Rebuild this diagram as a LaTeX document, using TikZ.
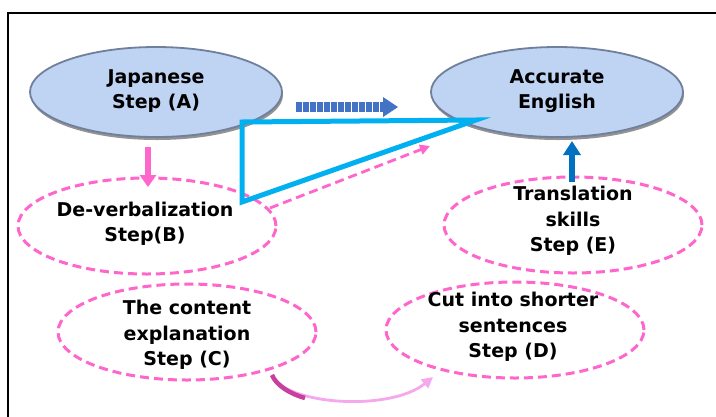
\documentclass[tikz,border=0pt]{standalone}
\usepackage{fontspec}
\setmainfont{DejaVu Sans}
\usetikzlibrary{shapes.geometric,arrows.meta}
\definecolor{solidfill}{HTML}{BFD3F2}
\definecolor{solidedge}{HTML}{6F7F9C}
\definecolor{pinkline}{HTML}{FF66CC}
\definecolor{bluearrow}{HTML}{4472C4}
\definecolor{cyanline}{HTML}{00B0F0}
\definecolor{upblue}{HTML}{0070C0}
\definecolor{curvedark}{HTML}{C8409E}
\definecolor{curvelight}{HTML}{F5A8EE}
\tikzset{
  solidell/.style={ellipse, draw=solidedge, line width=1.8pt, fill=solidfill, minimum width=252pt, minimum height=90pt, inner sep=0pt},
  dashell/.style={ellipse, draw=pinkline, line width=3pt, dash pattern=on 9pt off 5pt, minimum width=258pt, minimum height=96pt, inner sep=0pt},
  lbl/.style={font=\fontsize{19}{25.5}\selectfont\bfseries, align=center, inner sep=0pt}
}
\begin{document}
\begin{tikzpicture}[x=1pt,y=-1pt]
\useasboundingbox (0,0) rectangle (716,416);
\fill[white] (0,0) rectangle (716,416);
% frame
\draw[line width=2pt] (8,420) -- (8,13) -- (720,13);
% solid ellipses with shadow
\fill[black!60, opacity=0.7] (157,95) ellipse (126pt and 45pt);
\node[solidell] (A) at (156,92) {};
\fill[black!60, opacity=0.7] (558,95) ellipse (126pt and 45pt);
\node[solidell] (F) at (557,92) {};
\node[lbl] (At) at (156,91) {Japanese\\Step (A)};
\node[lbl] (Ft) at (557,91) {Accurate\\English};
% dashed ellipses
\node[dashell] (B) at (147,226) {};
\node[lbl] (Bt) at (145,224) {De-verbalization\\Step(B)};
\node[dashell] (C) at (187,332) {};
\node[lbl] (Ct) at (187,335) {The content\\explanation\\Step (C)};
\node[dashell] (E) at (573,225) {};
\node[lbl] (Et) at (573,221) {Translation\\skills\\Step (E)};
\node[dashell] (D) at (515,330) {};
\node[lbl] (Dt) at (513,327) {Cut into shorter\\sentences\\Step (D)};
% coordinates
\coordinate (bs) at (296,107);
\coordinate (t1) at (242,122);
\coordinate (t2) at (242,202);
\coordinate (t3) at (476,120);
\coordinate (ps) at (270,208);
\coordinate (pe) at (430,146);
\coordinate (as) at (148,147);
\coordinate (ae) at (148,187);
\coordinate (es) at (572,182);
\coordinate (ee) at (572,141);
\coordinate (cs) at (272,375);
\coordinate (ce) at (433,377);
% blue dashed thick arrow
\draw[bluearrow, line width=10pt, dash pattern=on 6pt off 1pt] (bs) -- ++(88,0);
\fill[bluearrow] (383,97) -- (398,107) -- (383,117) -- cycle;
% cyan triangle
\draw[cyanline, line width=5pt, line join=miter] (t1) -- (t3) -- (t2) -- cycle;
% pink dashed arrow
\draw[pinkline, line width=2.8pt, dash pattern=on 9pt off 5pt, -{Triangle[length=10pt,width=10pt]}] (ps) -- (pe);
% pink down arrow
\draw[pinkline, line width=6pt, -{Triangle[length=12pt,width=16pt]}] (as) -- (ae);
% blue up arrow
\draw[upblue, line width=6pt, -{Triangle[length=14pt,width=17pt]}] (es) -- (ee);
% curved arrow
\draw[curvelight, line width=2.8pt, -{Triangle[length=11pt,width=11pt]}] (cs) .. controls (285,405) and (390,412) .. (ce);
\draw[curvedark, line width=4.5pt] (cs) .. controls (276,385) and (290,394) .. (305,398);
\end{tikzpicture}
\end{document}
